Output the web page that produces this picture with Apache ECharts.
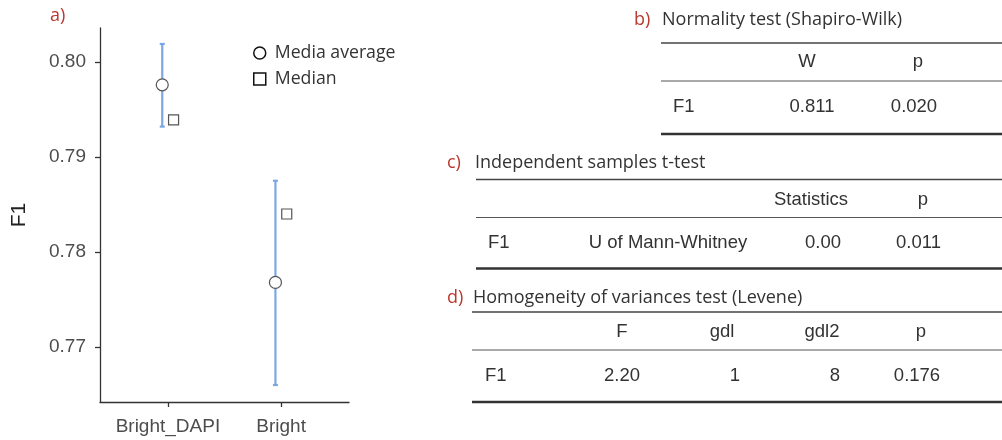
<!DOCTYPE html>
<html>
<head>
<meta charset="utf-8">
<script src="https://cdn.jsdelivr.net/npm/echarts@6/dist/echarts.min.js"></script>
<style>
html,body{margin:0;padding:0;background:#fff;}
#c{width:1002px;height:440px;}
</style>
</head>
<body>
<div id="c"></div>
<script>
// ---------- data ----------
const categories = ['Bright_DAPI', 'Bright'];
const means   = [0.7976, 0.7768];
const ciLow   = [0.7932, 0.7660];
const ciHigh  = [0.8019, 0.7875];
const medians = [0.7939, 0.7840];
const yTicks  = [0.77, 0.78, 0.79, 0.80];
const legendNames = ['Media average', 'Median'];
const yName = 'F1';

const panelLabels = ['a)', 'b)', 'c)', 'd)'];
const tableTitles = ['Normality test (Shapiro-Wilk)', 'Independent samples t-test', 'Homogeneity of variances test (Levene)'];
const bHeader = ['', 'W', 'p'];
const bRow    = ['F1', '0.811', '0.020'];
const cHeader = ['', '', 'Statistics', 'p'];
const cRow    = ['F1', 'U of Mann-Whitney', '0.00', '0.011'];
const dHeader = ['', 'F', 'gdl', 'gdl2', 'p'];
const dRow    = ['F1', '2.20', '1', '8', '0.176'];

// ---------- layout ----------
const dodge = 0.05;
const titleFont = '18px "Open Sans", "Noto Sans", sans-serif';
const cellFont = '18.5px "Liberation Sans", Arial, sans-serif';
const red = '#b8392e';
const ink = '#333333';

const tables = [
  {label: panelLabels[1], labelX: 634, title: tableTitles[0], titleX: 662, left: 661,
   yTitle: 20, yL1: 43, yHead: 62, yL2: 81, yRow: 107, yL3: 134,
   header: bHeader, row: bRow, headX: [null, 807, 918], rowX: [673, 812, 914]},
  {label: panelLabels[2], labelX: 447, title: tableTitles[1], titleX: 475, left: 476,
   yTitle: 163, yL1: 179.5, yHead: 199.5, yL2: 217.5, yRow: 242.5, yL3: 268.5,
   header: cHeader, row: cRow, headX: [null, null, 811, 923], rowX: [488, 668, 823, 918.5]},
  {label: panelLabels[3], labelX: 447, title: tableTitles[2], titleX: 473, left: 472,
   yTitle: 298, yL1: 312, yHead: 332, yL2: 350, yRow: 376, yL3: 402,
   header: dHeader, row: dRow, headX: [null, 622, 722, 822, 921], rowX: [485, 622, 735, 835, 917]}
];

const graphics = [];
graphics.push({type: 'text', x: 50, y: 16, style: {text: panelLabels[0], font: titleFont, fill: red, textVerticalAlign: 'middle'}});
tables.forEach(t => {
  graphics.push({type: 'text', x: t.labelX, y: t.yTitle, style: {text: t.label, font: titleFont, fill: red, textVerticalAlign: 'middle'}});
  graphics.push({type: 'text', x: t.titleX, y: t.yTitle, style: {text: t.title, font: titleFont, fill: ink, textVerticalAlign: 'middle'}});
  graphics.push({type: 'line', shape: {x1: t.left, y1: t.yL1, x2: 1002, y2: t.yL1}, style: {stroke: '#444', lineWidth: 1.6}});
  graphics.push({type: 'line', shape: {x1: t.left, y1: t.yL2, x2: 1002, y2: t.yL2}, style: {stroke: '#555', lineWidth: 1}});
  graphics.push({type: 'line', shape: {x1: t.left, y1: t.yL3, x2: 1002, y2: t.yL3}, style: {stroke: '#333', lineWidth: 2.5}});
  t.header.forEach((h, i) => {
    if (!h) return;
    graphics.push({type: 'text', x: t.headX[i], y: t.yHead, style: {text: h, font: cellFont, fill: ink, textAlign: 'center', textVerticalAlign: 'middle'}});
  });
  t.row.forEach((v, i) => {
    graphics.push({type: 'text', x: t.rowX[i], y: t.yRow, style: {text: v, font: cellFont, fill: ink, textAlign: i === 0 ? 'left' : 'center', textVerticalAlign: 'middle'}});
  });
});

const chart = echarts.init(document.getElementById('c'), null, {renderer: 'canvas'});
const axisFont = '"Liberation Sans", Arial, sans-serif';

chart.setOption({
  animation: false,
  backgroundColor: '#fff',
  grid: {left: 100, right: 653, top: 28, bottom: 38, containLabel: false},
  legend: {
    orient: 'vertical', left: 248, top: 38, itemWidth: 12, itemHeight: 12, itemGap: 6,
    textStyle: {fontFamily: '"Open Sans", "Noto Sans", sans-serif', fontSize: 17.7, color: ink, lineHeight: 20, padding: [0, 0, 0, 4]},
    data: [
      {name: legendNames[0], icon: 'circle', itemStyle: {color: '#fff', borderColor: '#111', borderWidth: 1.5}},
      {name: legendNames[1], icon: 'path://M0 0H10V10H0Z', itemStyle: {color: '#fff', borderColor: '#111', borderWidth: 1.5}}
    ]
  },
  xAxis: {
    type: 'value', min: 0.4, max: 2.6,
    splitLine: {show: false},
    axisLine: {show: true, lineStyle: {color: '#333', width: 1.3}},
    axisTick: {show: true, length: 5, lineStyle: {color: '#333', width: 1.3}, customValues: [1, 2]},
    axisLabel: {customValues: [1, 2], margin: 15, fontFamily: axisFont, fontSize: 19, color: '#4d4d4d',
      formatter: v => categories[Math.round(v) - 1] || ''}
  },
  yAxis: {
    type: 'value', min: 0.764211, max: 0.803579,
    name: yName, nameLocation: 'middle', nameGap: 70, nameRotate: 90,
    nameTextStyle: {fontFamily: axisFont, fontSize: 21, color: '#222'},
    splitLine: {show: false},
    axisLine: {show: true, lineStyle: {color: '#333', width: 1.3}},
    axisTick: {show: true, length: 5, lineStyle: {color: '#333', width: 1.3}, customValues: yTicks},
    axisLabel: {customValues: yTicks, margin: 14, fontFamily: axisFont, fontSize: 19, color: '#4d4d4d',
      formatter: v => v.toFixed(2)}
  },
  series: [
    {
      type: 'custom', name: 'ci', z: 1, silent: true,
      data: categories.map((c, i) => [i + 1 - dodge, ciLow[i], ciHigh[i]]),
      encode: {x: 0, y: [1, 2]},
      renderItem: (params, api) => {
        const x = api.value(0);
        const top = api.coord([x, api.value(2)]);
        const bot = api.coord([x, api.value(1)]);
        const cap = 2.5;
        const st = {stroke: '#7ba7e3', lineWidth: 2.2};
        return {type: 'group', children: [
          {type: 'line', shape: {x1: top[0], y1: top[1], x2: bot[0], y2: bot[1]}, style: st},
          {type: 'line', shape: {x1: top[0] - cap, y1: top[1], x2: top[0] + cap, y2: top[1]}, style: st},
          {type: 'line', shape: {x1: bot[0] - cap, y1: bot[1], x2: bot[0] + cap, y2: bot[1]}, style: st}
        ]};
      }
    },
    {
      type: 'scatter', name: legendNames[0], z: 3, symbol: 'circle', symbolSize: 12,
      itemStyle: {color: '#fff', borderColor: '#555', borderWidth: 1.2, opacity: 1},
      data: categories.map((c, i) => [i + 1 - dodge, means[i]])
    },
    {
      type: 'scatter', name: legendNames[1], z: 3, symbol: 'rect', symbolSize: 10,
      itemStyle: {color: '#fff', borderColor: '#555', borderWidth: 1.2, opacity: 1},
      data: categories.map((c, i) => [i + 1 + dodge, medians[i]])
    }
  ],
  graphic: graphics
});
</script>
</body>
</html>
